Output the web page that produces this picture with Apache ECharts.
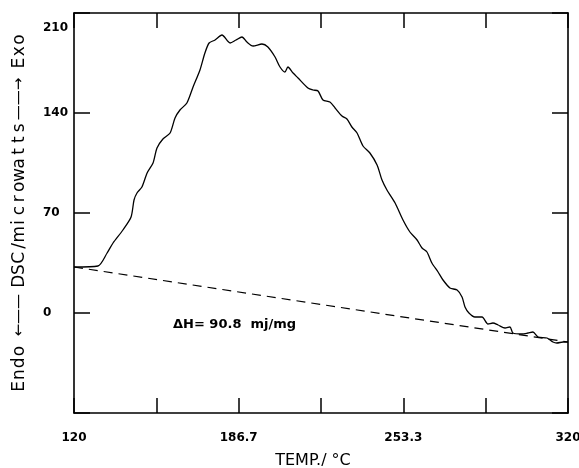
<!DOCTYPE html>
<html>
<head>
<meta charset="utf-8">
<script src="https://cdn.jsdelivr.net/npm/echarts@6/dist/echarts.min.js"></script>
<style>html,body{margin:0;padding:0;background:#fff;}#c{width:579px;height:468px;}</style>
</head>
<body>
<div id="c"></div>
<script>
// ---- data ----
const X_MIN = 120, X_MAX = 320;
const xTickLabels = ['120', '', '186.7', '', '253.3', '', '320'];
const yTickValues = [-70, 0, 70, 140, 210];
const yTickLabels = ['', '0', '70', '140', '210'];

const temps = [120.0,129.7,133.4,135.8,139.8,143.1,144.3,145.5,147.5,149.6,152.0,153.6,156.0,158.9,160.9,162.9,165.7,168.2,171.0,173.0,174.7,177.1,179.9,183.2,185.6,188.0,190.0,192.5,196.1,198.5,201.4,203.4,205.4,206.6,208.7,210.7,214.7,216.8,218.8,220.8,223.6,225.7,228.5,230.5,232.5,234.6,237.0,239.8,242.7,244.7,246.7,250.0,253.2,256.0,258.9,260.9,262.9,264.9,267.4,269.4,272.2,275.1,277.1,278.3,279.9,282.3,285.2,287.6,289.6,291.7,294.5,296.5,297.7,301.4,303.8,305.8,307.9,311.5,313.9,315.5,318.0,320.0];
const dsc = [32.2,32.9,42.0,49.0,58.1,67.2,79.1,84.0,88.2,98.0,105.0,115.5,121.8,126.0,136.5,142.1,147.0,158.2,170.1,182.0,189.0,191.1,194.6,189.0,191.1,193.2,189.7,186.9,188.3,186.2,179.2,172.2,168.7,172.2,168.0,164.5,157.5,156.1,155.4,149.1,147.7,143.5,137.9,135.8,130.2,126.0,116.9,112.0,103.6,93.1,86.1,77.0,65.1,56.7,51.1,45.5,42.7,35.0,28.7,23.1,17.5,16.1,11.2,4.2,0.0,-2.8,-2.8,-7.7,-7.0,-8.4,-10.5,-9.8,-14.0,-14.7,-14.0,-13.3,-16.8,-17.5,-20.3,-21.0,-20.3,-20.3];
const baseTemps = [120, 320];
const baseDsc = [32.2, -20.3];

const annotationText = 'ΔH= 90.8  mj/mg';
const xName = 'TEMP./ °C';
const yNameParts = ['Endo', '←', 'DSC/microwatts', '→', 'Exo'];

// ---- build ----
const step = (X_MAX - X_MIN) / 6;
const FONT = 'DejaVu Sans';

function charTokens(s) {
  return s.split('').map(ch => ch === ' ' ? '{sp| }' : '{c|' + ch + '}').join('');
}
const yName = charTokens(yNameParts[0]) + '{g1| }' + '{ar1|' + yNameParts[1] + '——}' + '{g2| }' +
  charTokens(yNameParts[2]) + '{g3| }' + '{ar2|——' + yNameParts[3] + '}' + '{g4| }' + charTokens(yNameParts[4]);

const chart = echarts.init(document.getElementById('c'), null, {renderer: 'canvas'});
const axisLineStyle = {color: '#000', width: 1.6};
const tickStyle = {color: '#000', width: 1.5};

chart.setOption({
  animation: false,
  backgroundColor: '#fff',
  grid: {left: 74, right: 11, top: 13, bottom: 55, containLabel: false, outerBoundsMode: 'none'},
  xAxis: [{
    type: 'value', min: 0, max: X_MAX - X_MIN, interval: step,
    position: 'bottom',
    axisLine: {show: true, onZero: false, lineStyle: axisLineStyle},
    axisTick: {show: true, inside: true, length: 15, lineStyle: tickStyle},
    splitLine: {show: false},
    axisLabel: {
      show: true, margin: 19, color: '#000', fontFamily: FONT, fontWeight: 'bold', fontSize: 12,
      showMinLabel: true, showMaxLabel: true,
      formatter: v => { const k = Math.round(v / step); return xTickLabels[k] || ''; }
    },
    name: xName, nameLocation: 'middle', nameGap: 40,
    nameTextStyle: {color: '#000', fontFamily: FONT, fontSize: 16, padding: [0, 16, 0, 0]}
  }, {
    type: 'value', min: 0, max: X_MAX - X_MIN, interval: step,
    position: 'top',
    axisLine: {show: true, onZero: false, lineStyle: axisLineStyle},
    axisTick: {show: true, inside: true, length: 15, lineStyle: tickStyle},
    splitLine: {show: false},
    axisLabel: {show: false}
  }],
  yAxis: [{
    type: 'value', min: yTickValues[0], max: yTickValues[yTickValues.length - 1], interval: 70,
    position: 'left',
    axisLine: {show: true, onZero: false, lineStyle: axisLineStyle},
    axisTick: {show: true, inside: true, length: 16, lineStyle: tickStyle},
    splitLine: {show: false},
    axisLabel: {
      show: true, margin: 31, align: 'left', color: '#000', fontFamily: FONT, fontWeight: 'bold', fontSize: 12,
      formatter: v => {
        const i = yTickValues.indexOf(Math.round(v));
        const t = i >= 0 ? yTickLabels[i] : '';
        if (i === yTickValues.length - 1) return '{top|' + t + '}';
        return t;
      },
      rich: {top: {padding: [30, 0, 0, 0], color: '#000', fontFamily: FONT, fontWeight: 'bold', fontSize: 12}}
    },
    name: yName, nameLocation: 'middle', nameGap: 46, nameRotate: 90,
    nameTextStyle: {
      color: '#000', fontFamily: FONT, fontSize: 17,
      rich: {
        c: {width: 11.8, align: 'center', fontSize: 17, fontFamily: FONT, color: '#000'},
        sp: {width: 6, fontSize: 17},
        g1: {width: 9, fontSize: 17}, g2: {width: 7, fontSize: 17},
        g3: {width: 6, fontSize: 17}, g4: {width: 13, fontSize: 17},
        ar1: {width: 42, align: 'center', fontSize: 15, fontFamily: FONT, color: '#000'},
        ar2: {width: 34, align: 'center', fontSize: 15, fontFamily: FONT, color: '#000'}
      }
    }
  }, {
    type: 'value', min: yTickValues[0], max: yTickValues[yTickValues.length - 1], interval: 70,
    position: 'right',
    axisLine: {show: true, onZero: false, lineStyle: axisLineStyle},
    axisTick: {show: true, inside: true, length: 16, lineStyle: tickStyle},
    splitLine: {show: false},
    axisLabel: {show: false}
  }],
  series: [{
    type: 'line', xAxisIndex: 0, yAxisIndex: 0,
    data: temps.map((t, i) => [t - X_MIN, dsc[i]]),
    showSymbol: false, smooth: 0.25,
    lineStyle: {color: '#000', width: 1.3},
    silent: true
  }, {
    type: 'line', xAxisIndex: 0, yAxisIndex: 0,
    data: baseTemps.map((t, i) => [t - X_MIN, baseDsc[i]]),
    showSymbol: false,
    lineStyle: {color: '#000', width: 1.2, type: [9, 6]},
    silent: true
  }],
  graphic: [{
    type: 'text', left: 173, top: 318,
    style: {text: annotationText, fill: '#000', font: 'bold 13px "DejaVu Sans"'}
  }]
});
</script>
</body>
</html>
